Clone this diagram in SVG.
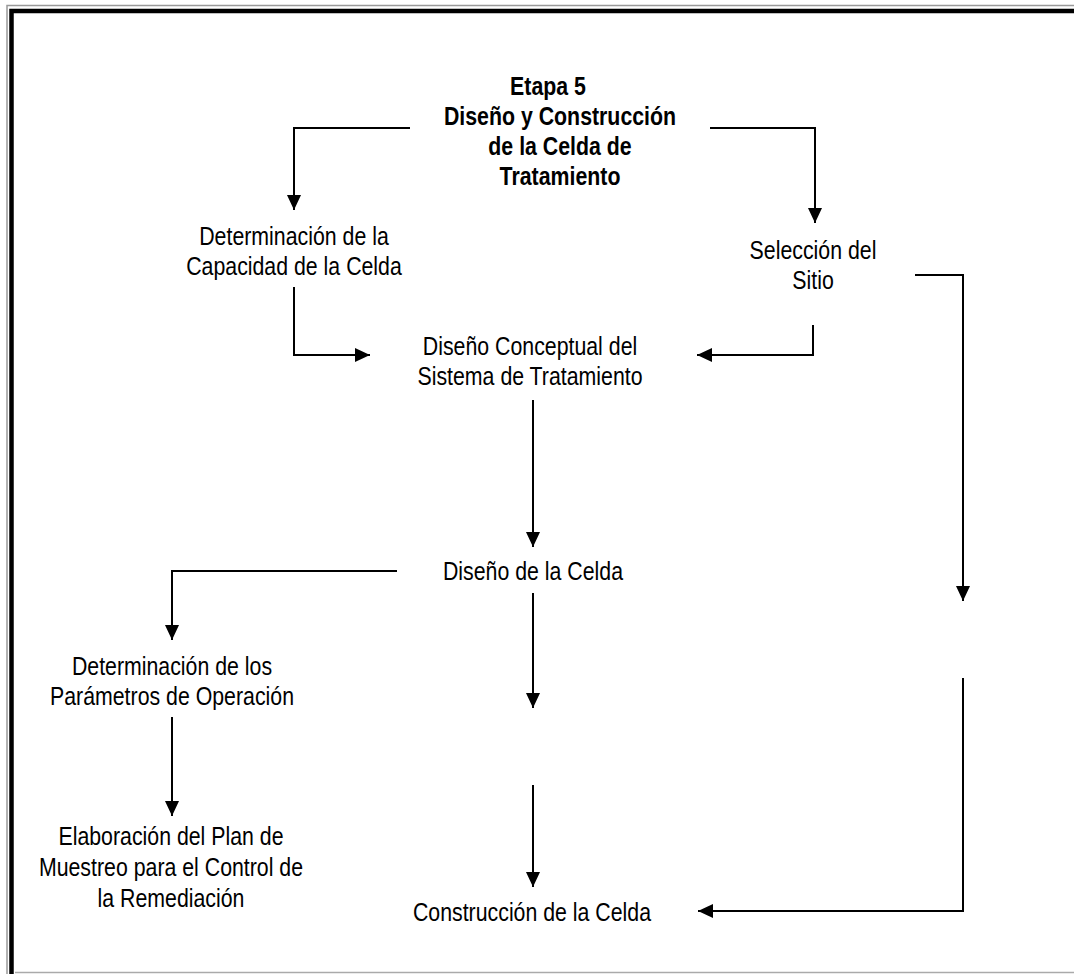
<svg xmlns="http://www.w3.org/2000/svg" width="1074" height="974" viewBox="0 0 1074 974">
<style>
  text { font-family: "Liberation Sans", Arial, sans-serif; font-size: 26px; fill: #000; text-anchor: middle; }
  .title { font-weight: bold; }
  .conn { fill: none; stroke: #000; stroke-width: 2; marker-end: url(#arrow); }
</style>
<defs>
  <marker id="arrow" markerUnits="userSpaceOnUse" markerWidth="16" markerHeight="16" viewBox="0 0 16 16" refX="15" refY="7" orient="auto">
    <path d="M0,0 L15,7 L0,14 z" fill="#000"/>
  </marker>
</defs>
<rect width="1074" height="974" fill="#fff"/>
<g id="frame">
  <path d="M7,974 V5.5 H1074" fill="none" stroke="#999" stroke-width="1.5"/>
  <path d="M15,972.5 H1074" fill="none" stroke="#aaa" stroke-width="1.5"/>
  <path d="M11.5,974 V11 H1074" fill="none" stroke="#000" stroke-width="4.5"/>
</g>
<g id="connectors">
  <path class="conn" d="M410,128 H294 V210"/>
  <path class="conn" d="M710,128 H815 V223"/>
  <path class="conn" d="M294,287 V355 H370"/>
  <path class="conn" d="M813,325 V355 H697"/>
  <path class="conn" d="M915,275 H963 V601"/>
  <path class="conn" d="M533,400 V547"/>
  <path class="conn" d="M397,571 H172 V640"/>
  <path class="conn" d="M172,717 V816"/>
  <path class="conn" d="M533,593 V708"/>
  <path class="conn" d="M533,785 V887"/>
  <path class="conn" d="M963,678 V911 H698"/>
</g>
<g id="node-title">
  <g transform="translate(548 0) scale(0.82 1)"><text class="title" x="0" y="95">Etapa 5</text></g>
  <g transform="translate(560 0) scale(0.82 1)">
    <text class="title" x="0" y="125">Diseño y Construcción</text>
    <text class="title" x="0" y="155">de la Celda de</text>
    <text class="title" x="0" y="185">Tratamiento</text>
  </g>
</g>
<g id="node-capacidad" transform="translate(294 0) scale(0.82 1)">
  <text x="0" y="245">Determinación de la</text>
  <text x="0" y="275">Capacidad de la Celda</text>
</g>
<g id="node-sitio" transform="translate(813 0) scale(0.82 1)">
  <text x="0" y="259">Selección del</text>
  <text x="0" y="289">Sitio</text>
</g>
<g id="node-conceptual" transform="translate(530 0) scale(0.82 1)">
  <text x="0" y="355">Diseño Conceptual del</text>
  <text x="0" y="385">Sistema de Tratamiento</text>
</g>
<g id="node-diseno-celda" transform="translate(533 0) scale(0.82 1)">
  <text x="0" y="580">Diseño de la Celda</text>
</g>
<g id="node-parametros" transform="translate(172 0) scale(0.82 1)">
  <text x="0" y="675">Determinación de los</text>
  <text x="0" y="705">Parámetros de Operación</text>
</g>
<g id="node-muestreo" transform="translate(171 0) scale(0.82 1)">
  <text x="0" y="845">Elaboración del Plan de</text>
  <text x="0" y="876">Muestreo para el Control de</text>
  <text x="0" y="907">la Remediación</text>
</g>
<g id="node-construccion" transform="translate(532 0) scale(0.82 1)">
  <text x="0" y="921">Construcción de la Celda</text>
</g>
</svg>
